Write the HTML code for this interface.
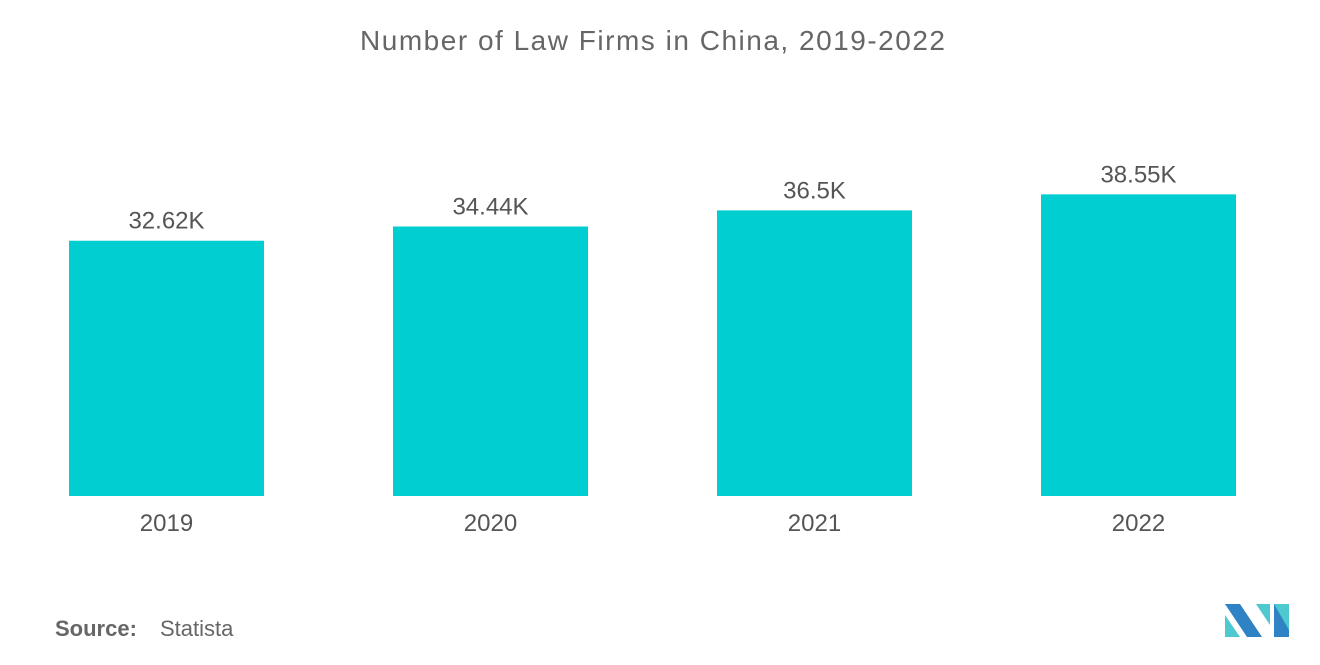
<!DOCTYPE html>
<html><head><meta charset="utf-8"><style>
body{margin:0;background:#fff;font-family:"Liberation Sans",sans-serif;}
svg{display:block}
</style></head><body>
<svg width="1320" height="665">
<text x="360" y="50" font-size="28" textLength="585" lengthAdjust="spacing" fill="#666">Number of Law Firms in China, 2019-2022</text>
<g id="bars"></g>
<text x="55" y="636" font-size="22" fill="#666" font-weight="bold">Source:</text>
<text x="160" y="636" font-size="22" fill="#666">Statista</text>
<g>
<polygon points="1225,604 1240,604 1262,637 1247,637" fill="#2f82c4"/>
<polygon points="1225,615 1240,637 1225,637" fill="#4ec9cf"/>
<polygon points="1256,604 1270,604 1270,625" fill="#4ec9cf"/>
<polygon points="1274,604 1289,604 1289,637 1274,637" fill="#2f82c4"/>
<polygon points="1274,604 1289,604 1289,630" fill="#4ec9cf"/>
</g>
</svg>
<script>
const categories=["2019","2020","2021","2022"];
const values=[32.62,34.44,36.5,38.55];
const valueLabels=["32.62K","34.44K","36.5K","38.55K"];
const baseY=496, pxPer=7.825, x0=69, step=324, bw=195;
const y=v=>baseY-v*pxPer;
const g=document.getElementById('bars');
const ns="http://www.w3.org/2000/svg";
categories.forEach((c,i)=>{
  const x=x0+i*step;
  const r=document.createElementNS(ns,'rect');
  r.setAttribute('x',x);r.setAttribute('y',y(values[i]));
  r.setAttribute('width',bw);r.setAttribute('height',baseY-y(values[i]));
  r.setAttribute('fill','#00ced1');
  
  
  g.appendChild(r);
  const t=document.createElementNS(ns,'text');
  t.setAttribute('x',x+bw/2);t.setAttribute('y',y(values[i])-12);
  t.setAttribute('text-anchor','middle');t.setAttribute('font-size','24');t.setAttribute('fill','#555');
  t.textContent=valueLabels[i];
  
  
  g.appendChild(t);
  const l=document.createElementNS(ns,'text');
  l.setAttribute('x',x+bw/2);l.setAttribute('y',531);
  l.setAttribute('text-anchor','middle');l.setAttribute('font-size','24');l.setAttribute('fill','#555');
  l.textContent=c;
  
  
  g.appendChild(l);
});
</script>
</body></html>
